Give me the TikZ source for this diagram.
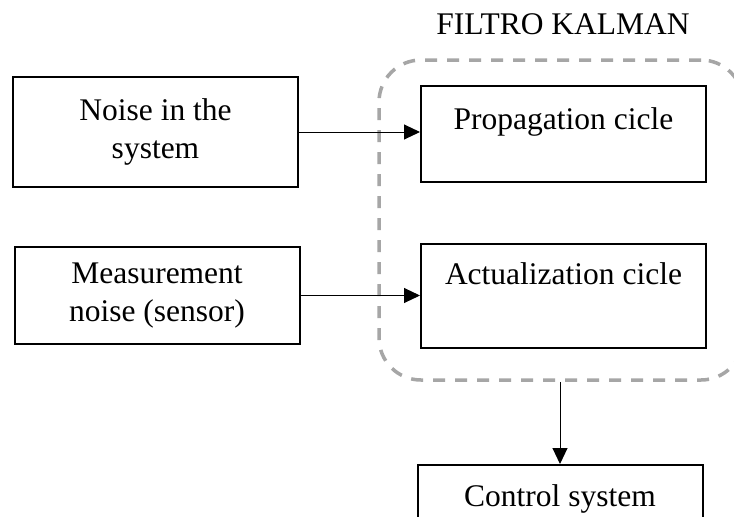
\documentclass[tikz,border=0pt]{standalone}
\usepackage{fontspec}
\setmainfont{Liberation Serif}
\usetikzlibrary{arrows.meta}
\definecolor{framegray}{HTML}{A6A6A6}
\begin{document}
\begin{tikzpicture}[x=1pt,y=-1pt,
  font=\fontsize{31.5}{37.5}\selectfont,
  block/.style={draw=black,line width=2pt,rectangle,inner sep=0pt,
    minimum width=285pt,align=center},
  frame/.style={draw=framegray,line width=3.5pt,dash pattern=on 12pt off 10pt,
    rounded corners=42pt,rectangle,inner sep=0pt,
    minimum width=364pt,minimum height=320pt},
  link/.style={line width=1pt,-{Triangle[length=16pt,width=15pt]}}]
\useasboundingbox[clip] (0,0) rectangle (734,517);
\fill[white] (0,0) rectangle (734,517);

% Kalman filter group
\node[frame] (kf) at (561,220) {};
\node (title) at (563,24) {FILTRO KALMAN};

% filter stages (text near the top of each box)
\node[block,text height=43pt,text depth=53pt,anchor=north] (prop) at (563.5,85) {Propagation cicle};
\node[block,text height=40pt,text depth=64pt,anchor=north] (act) at (563.5,243) {Actualization cicle};

% noise sources
\node[block,minimum height=110pt] (noise) at (155.5,132) {Noise in the\\system};
\node[block,minimum height=97pt] (meas) at (157,295.5) {Measurement\\noise (sensor)};

% output block
\node[block,text height=41pt,text depth=45pt,anchor=north] (ctrl) at (560,464) {Control system};

% connectors
\draw[link] (noise.east) -- (noise.east -| prop.west);
\draw[link] (meas.east) -- (meas.east -| act.west);
\draw[link] (kf.south -| ctrl.north) -- (ctrl.north);
\end{tikzpicture}
\end{document}
